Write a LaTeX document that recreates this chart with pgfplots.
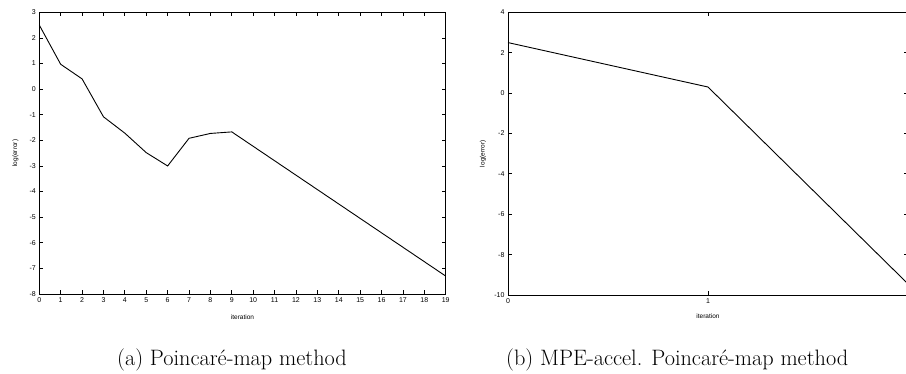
\documentclass[border=0pt]{standalone}
\usepackage{fontspec}
\usepackage{pgfplots}
\pgfplotsset{compat=1.18}
\newfontfamily\axfont{Liberation Sans}
\pgfplotsset{
  gp/.style={
    scale only axis,
    tick align=inside,
    major tick length=4pt,
    axis line style={line width=1pt},
    every tick/.style={line width=0.8pt, black},
    /pgf/number format/assume math mode=true,
    ticklabel style={font=\axfont\fontsize{7}{8}\selectfont},
    label style={font=\axfont\fontsize{6.5}{7}\selectfont},
    xlabel={iteration},
    ylabel={log(error)},
    clip=false,
  }
}
\begin{document}
\begin{tikzpicture}
\path[use as bounding box] (0pt,0pt) rectangle (906pt,373pt);
\begin{axis}[gp,
  at={(39.3pt,79pt)}, anchor=south west,
  width=406.4pt, height=281.7pt,
  xmin=0, xmax=19, ymin=-8, ymax=3,
  xtick={0,...,19}, ytick={-8,...,3},
  xlabel style={at={(axis description cs:0.5,-0.0817)}, anchor=center},
  ylabel style={at={(axis description cs:-0.059,0.5)}, anchor=center},
]
\addplot[black, line width=0.9pt] coordinates {
(0,2.5) (1,0.97) (2,0.4) (3,-1.08) (4,-1.72) (5,-2.48) (6,-3.0) (7,-1.92) (8,-1.73) (9,-1.67) (19,-7.3)
};
\end{axis}
\begin{axis}[gp,
  at={(508pt,78pt)}, anchor=south west,
  width=400pt, height=282.7pt,
  xmin=0, xmax=2, ymin=-10, ymax=4,
  xtick={0,1}, ytick={-10,-8,...,4},
  extra x ticks={2}, extra x tick labels={},
  xlabel style={at={(axis description cs:0.5,-0.074)}, anchor=center},
  ylabel style={at={(axis description cs:-0.0625,0.5)}, anchor=center},
]
\addplot[black, line width=0.9pt] coordinates {
(0,2.5) (1,0.3) (2,-9.45)
};
\end{axis}
\node[anchor=base] at (232pt,7.3pt) {\fontsize{22.3}{26}\selectfont (a) Poincaré-map method};
\node[anchor=base west, inner sep=0pt] at (506pt,7.3pt) {\fontsize{22.3}{26}\selectfont (b) MPE-accel. Poincaré-map method};
\end{tikzpicture}
\end{document}
